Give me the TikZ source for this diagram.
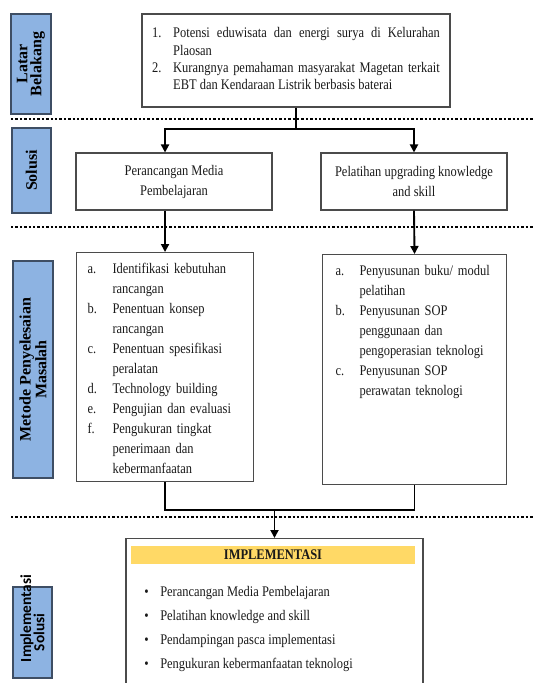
\documentclass[tikz,border=0pt]{standalone}
\usepackage{fontspec}
\setmainfont{Liberation Serif}[FakeStretch=0.85]
\newfontfamily\sidefont{Liberation Serif}
\newfontfamily\sidesans{Carlito}
\usetikzlibrary{arrows.meta}
\definecolor{sideblue}{RGB}{141,179,226}
\definecolor{sideedge}{RGB}{62,78,100}
\definecolor{boxgray}{RGB}{75,75,75}
\definecolor{baryellow}{RGB}{255,217,102}

\begin{document}
\begin{tikzpicture}[x=0.75pt, y=-0.75pt,
        sidebox/.style={rectangle, rotate=90, fill=sideblue, draw=sideedge, line width=1.1pt, align=center, inner sep=0pt, font=\sidefont\bfseries\fontsize{12}{10.5}\selectfont},
        plainbox/.style={rectangle, draw=boxgray, line width=0.8pt, align=center, text=black!90, font=\fontsize{11}{15}\selectfont},
        listbox/.style={rectangle, draw=boxgray, line width=0.8pt, anchor=north west, align=left, text=black!90, inner ysep=5.5pt, text height=10.5pt, font=\fontsize{11}{15}\selectfont},
        conn/.style={line width=1.4pt},
        arr/.style={conn, -{Triangle[length=6pt,width=6pt]}},
        dotline/.style={line width=2pt, dash pattern=on 1.8pt off 1.5pt}]
        \clip (0,0) rectangle (533,683);

        \node[sidebox, minimum width=75pt, minimum height=30pt] (7) at (31,64) {Latar\\Belakang};
        \node[sidebox, minimum width=63.75pt, minimum height=29.25pt] (8) at (31.5,170.5) {Solusi};
        \node[sidebox, minimum width=162.75pt, minimum height=30pt] (9) at (33,369.5) {Metode Penyelesaian\\Masalah};
        \node[sidebox, font=\sidesans\bfseries\fontsize{11.5}{10}\selectfont, text width=44.25pt, inner xsep=12pt, minimum height=29.25pt] (10) at (32.5,632.5) {\mbox{Implementasi}\\Solusi};

        \node[plainbox, minimum width=231pt, minimum height=69.75pt, inner xsep=7.5pt, font=\fontsize{11}{13}\selectfont] (1) at (296,60.5) {\begin{tabular}{@{}p{15.75pt}@{}p{200pt}@{}}
            1. & Potensi eduwisata dan energi surya di Kelurahan\linebreak Plaosan\\
            2. & Kurangnya pemahaman masyarakat Magetan terkait\linebreak EBT dan Kendaraan Listrik berbasis baterai
        \end{tabular}};
        \node[plainbox, minimum width=147pt, minimum height=42.75pt, yshift=-1.5pt] (2) at (174,179.5) {Perancangan Media\\Pembelajaran};
        \node[plainbox, minimum width=139.5pt, minimum height=42.75pt, yshift=-1.5pt] (3) at (414,179.5) {Pelatihan upgrading knowledge\\and skill};

        \node[listbox, text width=116.25pt, inner xsep=8.25pt, text depth=150.25pt] (4) at (76,252) {\begin{tabular}[t]{@{}p{18.75pt}@{}l@{}}
            a. & Identifikasi kebutuhan\\ & rancangan\\
            b. & Penentuan konsep\\ & rancangan\\
            c. & Penentuan spesifikasi\\ & peralatan\\
            d. & Technology building\\
            e. & Pengujian dan evaluasi\\
            f. & Pengukuran tingkat\\ & penerimaan dan\\ & kebermanfaatan
        \end{tabular}};
        \node[listbox, text width=118.5pt, inner xsep=9.75pt, text depth=151pt] (5) at (322,254) {\begin{tabular}[t]{@{}p{18pt}@{}l@{}}
            a. & Penyusunan buku/ modul\\ & pelatihan\\
            b. & Penyusunan SOP\\ & penggunaan dan\\ & pengoperasian teknologi\\
            c. & Penyusunan SOP\\ & perawatan teknologi
        \end{tabular}};

        \node[rectangle, draw=boxgray, line width=0.8pt, minimum width=222.75pt, minimum height=121.5pt, anchor=north] (6) at (274.5,538) {};
        \node[rectangle, fill=baryellow, minimum width=213pt, minimum height=13.5pt, inner sep=0pt, text=black!90, font=\bfseries\fontsize{11}{13}\selectfont] (13) at (273,555) {IMPLEMENTASI};
        \node[anchor=north west, inner sep=0pt, align=left, text=black!90, font=\fontsize{11}{18}\selectfont] (14) at (144,579) {\begin{tabular}{@{}p{12pt}@{}l@{}}
            \textbullet & Perancangan Media Pembelajaran\\
            \textbullet & Pelatihan knowledge and skill\\
            \textbullet & Pendampingan pasca implementasi\\
            \textbullet & Pengukuran kebermanfaatan teknologi
        \end{tabular}};

        % garis pemisah
        \draw[dotline] (11,119) -- (533,119);
        \draw[dotline] (11,227) -- (533,227);
        \draw[dotline] (11,517) -- (533,517);

        \coordinate (11) at (296,129);
        \coordinate (12) at (274.5,510);
        \draw[conn] (1.south) -- (11);
        \draw[arr] (11) -| (2.north -| 4.north);
        \draw[arr] (11) -| (3.north);
        \draw[arr] (2.south -| 4.north) -- (4.north);
        \draw[arr] (3.south) -- (5.north);
        \draw[conn] (4.south) |- (12) -| (5.south);
        \draw[arr] (12) -- (6.north);
    \end{tikzpicture}
\end{document}
